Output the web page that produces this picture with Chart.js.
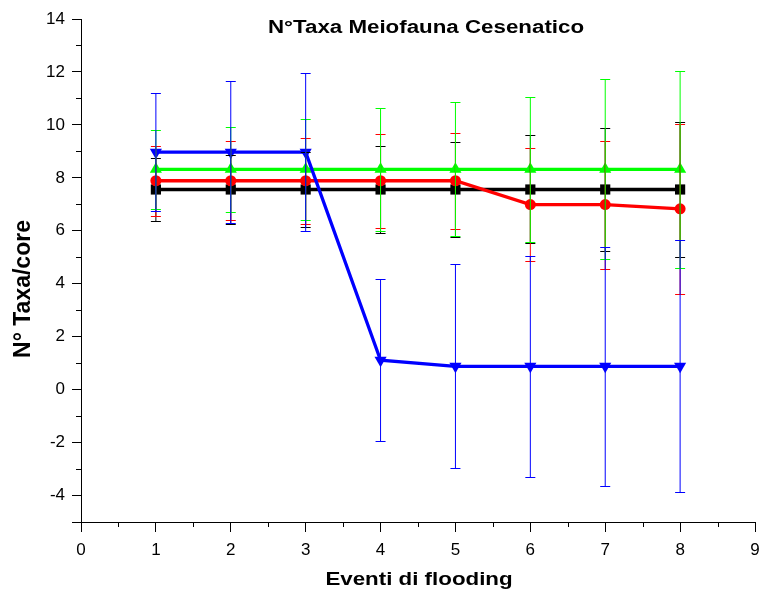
<!DOCTYPE html>
<html>
<head>
<meta charset="utf-8">
<script src="https://cdn.jsdelivr.net/npm/chart.js@4/dist/chart.umd.min.js"></script>
<style>
  html, body { margin: 0; padding: 0; background: #ffffff; }
  #wrap { width: 759px; height: 596px; }
</style>
</head>
<body>
<div id="wrap"><canvas id="c" width="759" height="596"></canvas></div>
<script>
// Flooding events (x) and number of taxa per core (mean ± error) for four series
const events = [1, 2, 3, 4, 5, 6, 7, 8];

const blackMean = [7.56, 7.56, 7.56, 7.56, 7.56, 7.56, 7.56, 7.56];
const blackErr  = [1.20, 1.29, 1.41, 1.65, 1.80, 2.04, 2.32, 2.54];

const redMean = [7.89, 7.89, 7.89, 7.89, 7.89, 6.99, 6.99, 6.83];
const redErr  = [1.33, 1.50, 1.62, 1.77, 1.82, 2.15, 2.42, 3.21];

const greenMean = [8.32, 8.32, 8.32, 8.32, 8.32, 8.32, 8.32, 8.32];
const greenErr  = [1.49, 1.61, 1.92, 2.31, 2.53, 2.74, 3.40, 3.73];

const blueMean = [8.97, 8.97, 8.97, 1.11, 0.88, 0.88, 0.88, 0.88];
const blueErr  = [2.22, 2.67, 2.98, 3.06, 3.85, 4.18, 4.52, 4.76];

const xTickValues = [0, 1, 2, 3, 4, 5, 6, 7, 8, 9];
const yTickValues = [-4, -2, 0, 2, 4, 6, 8, 10, 12, 14];

const titleText = 'N°Taxa Meiofauna Cesenatico';
const xTitleText = 'Eventi di flooding';
const yTitleText = 'N° Taxa/core';

const FONT = '"Liberation Sans", Arial, Helvetica, sans-serif';
const TEXT_WIDEN = 1.24;   // horizontal titles use a widened face

function points(means) {
  return events.map((x, i) => ({ x: x, y: means[i] }));
}

function series(label, color, means, errs, style, radius, rotation, order) {
  return {
    label: label,
    data: points(means),
    errors: errs,
    borderColor: color,
    backgroundColor: color,
    pointBackgroundColor: color,
    pointBorderColor: color,
    pointBorderWidth: 0,
    pointStyle: style,
    pointRadius: radius,
    pointHoverRadius: radius,
    pointRotation: rotation,
    borderWidth: 3.3,
    tension: 0,
    fill: false,
    order: order
  };
}

// Vertical error bars with caps, drawn through the chart's own scales
const errorBars = {
  id: 'errorBars',
  afterDatasetsDraw(chart) {
    const { ctx, scales: { x, y } } = chart;
    ctx.save();
    ctx.lineWidth = 1;
    const idx = chart.data.datasets.map((d, i) => i)
      .sort((a, b) => chart.data.datasets[b].order - chart.data.datasets[a].order);
    idx.forEach(i => {
      const ds = chart.data.datasets[i];
      ctx.strokeStyle = ds.borderColor;
      ds.data.forEach((p, j) => {
        const e = ds.errors[j];
        const px = x.getPixelForValue(p.x);
        const top = Math.round(y.getPixelForValue(p.y + e)) + 0.5;
        const bot = Math.round(y.getPixelForValue(p.y - e)) + 0.5;
        ctx.beginPath();
        ctx.moveTo(px, top);
        ctx.lineTo(px, bot);
        ctx.moveTo(px - 5, top);
        ctx.lineTo(px + 5, top);
        ctx.moveTo(px - 5, bot);
        ctx.lineTo(px + 5, bot);
        ctx.stroke();
      });
    });
    ctx.restore();
  }
};

function drawText(ctx, text, cx, cy, font, angle, widen) {
  ctx.save();
  ctx.translate(cx, cy);
  if (angle) ctx.rotate(angle);
  ctx.scale(widen, 1);
  ctx.font = font;
  ctx.fillText(text, 0, 0);
  ctx.restore();
}

// Short minor ticks between labelled values, plus titles
const decorations = {
  id: 'decorations',
  afterDraw(chart) {
    const { ctx, chartArea, scales: { x, y } } = chart;
    ctx.save();
    ctx.strokeStyle = '#000';
    ctx.lineWidth = 1;
    ctx.beginPath();
    for (let v = 0.5; v < 9; v += 1) {
      const px = Math.round(x.getPixelForValue(v)) + 0.5;
      ctx.moveTo(px, chartArea.bottom);
      ctx.lineTo(px, chartArea.bottom + 5);
    }
    for (let v = -5; v <= 13; v += 2) {
      const py = Math.round(y.getPixelForValue(v)) + 0.5;
      ctx.moveTo(chartArea.left, py);
      ctx.lineTo(chartArea.left - 5, py);
    }
    ctx.stroke();

    ctx.fillStyle = '#000';
    ctx.textAlign = 'center';
    ctx.textBaseline = 'middle';
    const mid = (chartArea.left + chartArea.right) / 2;
    drawText(ctx, titleText, mid + 8, 28, 'bold 18px ' + FONT, 0, TEXT_WIDEN);
    drawText(ctx, xTitleText, mid + 1, 580, 'bold 18px ' + FONT, 0, TEXT_WIDEN);
    drawText(ctx, yTitleText, 24, 289, 'bold 23px ' + FONT, -Math.PI / 2, 1);
    ctx.restore();
  }
};

function axis(tickLength) {
  return {
    type: 'linear',
    border: { display: true, color: '#000', width: 1 },
    grid: {
      display: true,
      drawOnChartArea: false,
      drawTicks: true,
      tickLength: tickLength,
      tickWidth: 1,
      tickColor: '#000'
    }
  };
}

new Chart(document.getElementById('c'), {
  type: 'line',
  data: {
    datasets: [
      series('Nero', '#000000', blackMean, blackErr, 'rect', 7.2, 0, 4),
      series('Rosso', '#ff0000', redMean, redErr, 'circle', 5.5, 0, 3),
      series('Verde', '#00ff00', greenMean, greenErr, 'triangle', 7, 0, 2),
      series('Blu', '#0000ff', blueMean, blueErr, 'triangle', 7, 180, 1)
    ]
  },
  options: {
    responsive: false,
    animation: false,
    devicePixelRatio: 1,
    layout: { autoPadding: false, padding: { top: 19, left: 0, right: 0, bottom: 0 } },
    plugins: {
      legend: { display: false },
      title: { display: false },
      tooltip: { enabled: false }
    },
    scales: {
      x: Object.assign(axis(10), {
        min: 0,
        max: 9,
        afterBuildTicks: s => { s.ticks = xTickValues.map(v => ({ value: v })); },
        ticks: {
          color: '#000',
          font: { family: FONT, size: 17 },
          padding: 8,
          maxRotation: 0,
          autoSkip: false,
          callback: v => String(v)
        },
        afterFit: s => { s.height = 74; s.paddingRight = 4; }
      }),
      y: Object.assign(axis(9), {
        min: -5,
        max: 14,
        afterBuildTicks: s => { s.ticks = [-5].concat(yTickValues).map(v => ({ value: v })); },
        ticks: {
          color: '#000',
          font: { family: FONT, size: 17 },
          padding: 7,
          autoSkip: false,
          callback: v => (v >= -4 ? String(v) : '')
        },
        afterFit: s => { s.width = 81; }
      })
    }
  },
  plugins: [errorBars, decorations]
});
</script>
</body>
</html>
